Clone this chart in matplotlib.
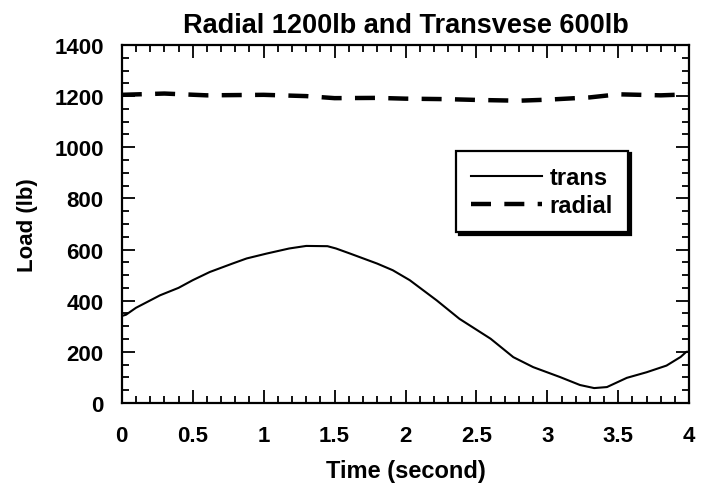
import numpy as np
import matplotlib.pyplot as plt
from matplotlib.ticker import MultipleLocator

# trans load
trans_t = [0.0, 0.03, 0.1, 0.27, 0.4, 0.45, 0.5, 0.62, 0.78, 0.88, 1.02, 1.18, 1.3, 1.45, 1.51,
           1.61, 1.8, 1.91, 2.03, 2.22, 2.38, 2.6, 2.76, 2.9, 3.09, 3.23, 3.33, 3.42,
           3.56, 3.7, 3.84, 3.94, 3.98, 4.0]
trans_load = [340, 345, 372, 421, 450, 465, 480, 512, 545, 565, 584, 604, 614, 613, 604,
              584, 545, 519, 480, 401, 329, 251, 179, 140, 101, 70, 58, 62,
              98, 120, 146, 180, 200, 200]

# radial load, nearly constant
radial_t = [0.0, 0.3, 0.6, 1.0, 1.3, 1.5, 1.8, 2.0, 2.3, 2.5, 2.8, 3.0, 3.3, 3.5, 3.8, 4.0]
radial_load = [1205, 1210, 1203, 1205, 1200, 1192, 1193, 1190, 1188, 1185, 1182, 1186, 1195, 1207, 1203, 1207]

plt.rcParams['font.family'] = ['Liberation Sans', 'DejaVu Sans']
plt.rcParams['font.weight'] = 'bold'

fig = plt.figure(figsize=(7.04, 4.89), dpi=100)
ax = fig.add_axes([0.173, 0.174, 0.806, 0.732])

ax.plot(trans_t, trans_load, '-', color='black', lw=1.5, label='trans')
ax.plot(radial_t, radial_load, color='black', lw=3.2, dashes=(4.5, 3), label='radial')

ax.set_xlim(0, 4)
ax.set_ylim(0, 1400)
ax.xaxis.set_minor_locator(MultipleLocator(0.1))
ax.yaxis.set_major_locator(MultipleLocator(200))
ax.yaxis.set_minor_locator(MultipleLocator(50))
ax.set_xticks([0, 0.5, 1, 1.5, 2, 2.5, 3, 3.5, 4])
ax.set_xticklabels(['0', '0.5', '1', '1.5', '2', '2.5', '3', '3.5', '4'])
ax.tick_params(which='both', direction='in', top=True, right=True, width=1.3,
               labelsize=16)
ax.tick_params(axis='x', pad=16)
ax.tick_params(axis='y', pad=13)
ax.tick_params(which='major', length=9.5)
ax.tick_params(which='minor', length=5)
for s in ax.spines.values():
    s.set_linewidth(1.6)

ax.set_title('Radial 1200lb and Transvese 600lb', fontsize=19.5, fontweight='bold', pad=9)
ax.set_xlabel('Time (second)', fontsize=17, fontweight='bold', labelpad=9)
ax.set_ylabel('Load (lb)', fontsize=16, fontweight='bold', labelpad=12)

leg = ax.legend(loc='upper left', bbox_to_anchor=(0.589, 0.705), fontsize=17,
                frameon=True, shadow={'color': 'black', 'alpha': 1}, fancybox=False,
                handlelength=3.0, handletextpad=0.3, borderpad=0.65,
                borderaxespad=0, labelspacing=0.22)
leg.get_frame().set_edgecolor('black')
leg.get_frame().set_linewidth(1.6)
leg.get_frame().set_alpha(1)

fig.savefig('out.png', dpi=100)
